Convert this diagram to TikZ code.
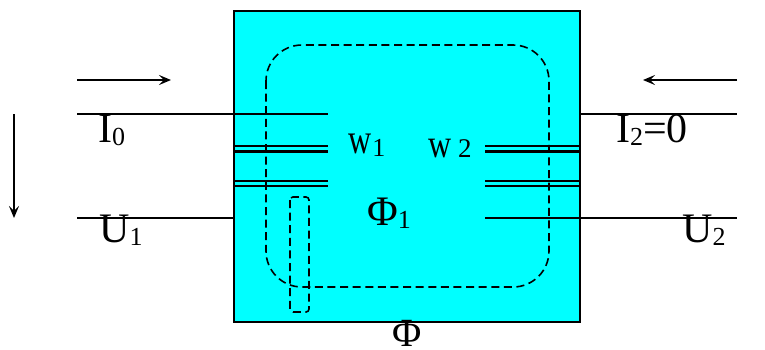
\documentclass[tikz,border=0pt]{standalone}
\usepackage{fontspec}
\setmainfont{Liberation Serif}
\usepackage{xcolor}
\usepackage{graphicx}
\usetikzlibrary{arrows.meta}
\definecolor{core_fill}{RGB}{0,255,255}
\newcommand{\bigtxt}[1]{{\fontsize{42}{42}\selectfont #1}}
\newcommand{\lowtxt}[1]{\raisebox{-3.5pt}{\fontsize{26}{26}\selectfont #1}}
\newcommand{\tallw}[1]{\scalebox{1}[#1]{\fontsize{32}{32}\selectfont w}}
\tikzset{ core/.style = {draw, fill=core_fill, line width=1.5pt} }
\tikzset{ wire/.style = {line width=1.2pt} }
\tikzset{ turn/.style = {line width=2.5pt} }
\tikzset{ dir_arrow/.style = {line width=1.8pt, -{Stealth[length=12pt,width=10pt,inset=5pt]}} }
\tikzset{ flux_path/.style = {draw, line width=1.6pt, dash pattern=on 8pt off 4.6pt} }
\tikzset{ lbl/.style = {inner sep=0pt, anchor=base west} }

\begin{document}
\begin{tikzpicture}[x=1pt, y=-1pt]
            \useasboundingbox (0, 0) rectangle (765, 349);
            \draw[core] (234, 11) rectangle (580, 322);
            \coordinate (a1) at (77, 114);
            \coordinate (a2) at (328, 114);
            \coordinate (b1) at (234, 146);
            \coordinate (b2) at (328, 146);
            \coordinate (c1) at (234, 151.5);
            \coordinate (c2) at (328, 151.5);
            \coordinate (d1) at (234, 181);
            \coordinate (d2) at (328, 181);
            \coordinate (e1) at (234, 186);
            \coordinate (e2) at (328, 186);
            \coordinate (f1) at (77, 218);
            \coordinate (f2) at (234, 218);
            \coordinate (g1) at (580, 114);
            \coordinate (g2) at (737, 114);
            \coordinate (h1) at (485, 146);
            \coordinate (h2) at (580, 146);
            \coordinate (i1) at (485, 151.5);
            \coordinate (i2) at (580, 151.5);
            \coordinate (j1) at (485, 181);
            \coordinate (j2) at (580, 181);
            \coordinate (k1) at (485, 186);
            \coordinate (k2) at (580, 186);
            \coordinate (l1) at (485, 218);
            \coordinate (l2) at (737, 218);
            \coordinate (m1) at (77, 80);
            \coordinate (m2) at (171, 80);
            \coordinate (n1) at (737, 80);
            \coordinate (n2) at (643, 80);
            \coordinate (o1) at (14, 114);
            \coordinate (o2) at (14, 218);
            \draw[wire] (a1) to (a2);
            \draw[wire] (f1) to (f2);
            \draw[wire] (g1) to (g2);
            \draw[wire] (l1) to (l2);
            \draw[turn] (b1) to (b2);
            \draw[turn] (c1) to (c2);
            \draw[turn] (d1) to (d2);
            \draw[turn] (e1) to (e2);
            \draw[turn] (h1) to (h2);
            \draw[turn] (i1) to (i2);
            \draw[turn] (j1) to (j2);
            \draw[turn] (k1) to (k2);
            \draw[dir_arrow] (m1) to (m2);
            \draw[dir_arrow] (n1) to (n2);
            \draw[dir_arrow] (o1) to (o2);
            \draw[flux_path, rounded corners=36pt] (266, 45) rectangle (549, 287);
            \draw[flux_path, rounded corners=3pt] (290, 197) rectangle (309, 312);
            \node [lbl] (i0) at (98, 142) {\bigtxt{I}\lowtxt{0}};
            \node [lbl] (u1) at (99, 242) {\bigtxt{U}\lowtxt{1}};
            \node [lbl] (w1) at (348, 153) {\tallw{1.33}\kern1pt\lowtxt{1}};
            \node [lbl] (w2) at (428, 157) {\tallw{1.25}\fontsize{27}{27}\selectfont{} 2};
            \node [lbl] (phi1) at (367, 225) {\bigtxt{Φ}\lowtxt{1}};
            \node [lbl] (i2) at (616, 142) {\bigtxt{I}\lowtxt{2}\bigtxt{=0}};
            \node [lbl] (u2) at (682, 242) {\bigtxt{U}\lowtxt{2}};
            \node [lbl] (phi) at (392, 346) {\fontsize{40}{40}\selectfont Φ};
        \end{tikzpicture}
\end{document}
